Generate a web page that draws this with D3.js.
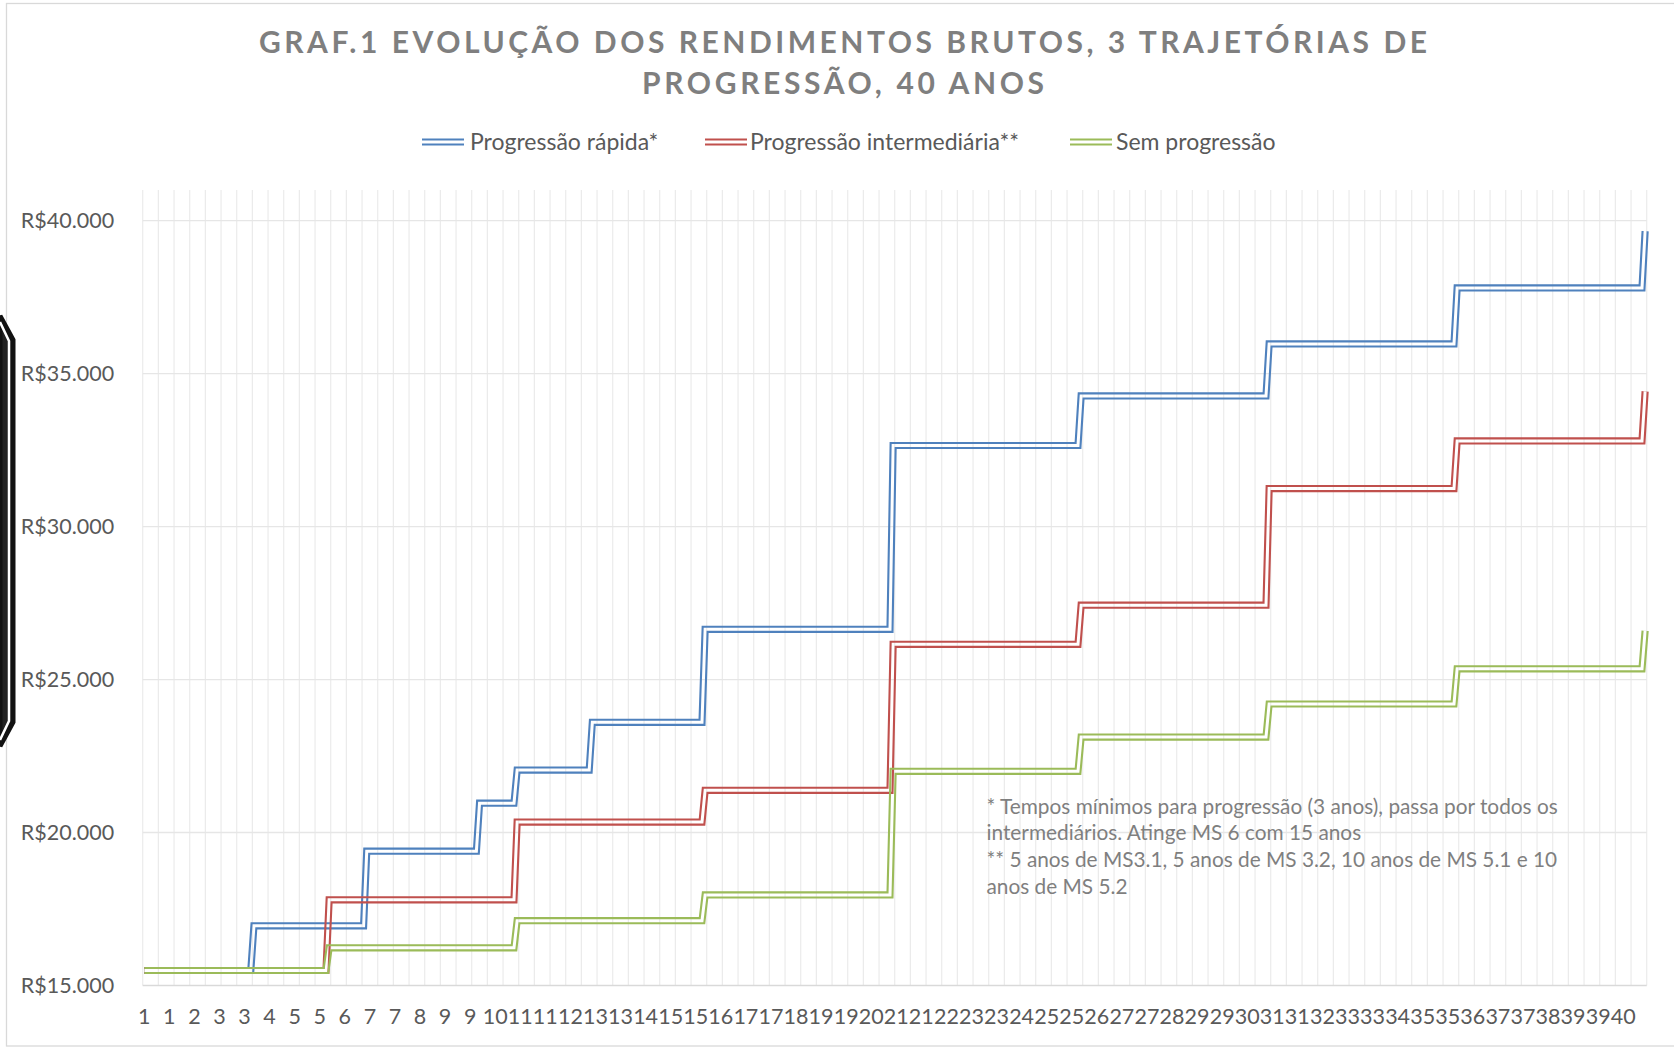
<!DOCTYPE html>
<html>
<head>
<meta charset="utf-8">
<script src="https://cdn.jsdelivr.net/npm/d3@7/dist/d3.min.js"></script>
<style>
  html, body { margin: 0; padding: 0; background: #ffffff; }
  svg { display: block; }
  text { font-family: Lato, "Open Sans", sans-serif; }
</style>
</head>
<body>
<svg id="chart" width="1674" height="1049"></svg>
<script>
// ---------------- data ----------------
const titleLines = ["GRAF.1 EVOLUÇÃO DOS RENDIMENTOS BRUTOS, 3 TRAJETÓRIAS DE", "PROGRESSÃO, 40 ANOS"];
const seriesNames = ["Progressão rápida*", "Progressão intermediária**", "Sem progressão"];
const seriesColors = ["#4F81BD", "#C0504D", "#9BBB59"];

// categories: 480 months (40 years), each labelled by its year
const months = d3.range(1, 481);
// tick labels shown every 8th month
const tickLabels = [1,1,2,3,3,4,5,5,6,7,7,8,9,9,10,11,11,12,13,13,14,15,15,16,17,17,18,19,19,20,
                    21,21,22,23,23,24,25,25,26,27,27,28,29,29,30,31,31,32,33,33,34,35,35,36,37,37,38,39,39,40];
const yTicks = [15000, 20000, 25000, 30000, 35000, 40000];

// step series: month at which each level starts, and the level (R$)
const rapidaStart  = [1, 36, 72, 108, 120, 144, 180, 240, 300, 360, 420, 480];
const rapidaLevel  = [15490, 16950, 19390, 20960, 22040, 23600, 26640, 32650, 34270, 35970, 37800, 39660];
const interStart   = [1, 60, 120, 180, 240, 300, 360, 420, 480];
const interLevel   = [15490, 17800, 20340, 21380, 26150, 27430, 31240, 32800, 34420];
const semStart     = [1, 60, 120, 180, 240, 300, 360, 420, 480];
const semLevel     = [15490, 16230, 17120, 17960, 22000, 23120, 24200, 25350, 26600];

const notes = [
  "* Tempos mínimos para progressão (3 anos), passa por todos os",
  "intermediários. Atinge MS 6 com 15 anos",
  "** 5 anos de MS3.1, 5 anos de MS 3.2, 10 anos de MS 5.1 e 10",
  "anos de MS 5.2"
];

// ---------------- build ----------------
function expand(starts, levels) {
  return months.map(m => {
    let v = levels[0];
    for (let i = 0; i < starts.length; i++) if (starts[i] <= m) v = levels[i];
    return { m, v };
  });
}
const series = [
  { name: seriesNames[0], color: seriesColors[0], values: expand(rapidaStart, rapidaLevel) },
  { name: seriesNames[1], color: seriesColors[1], values: expand(interStart, interLevel) },
  { name: seriesNames[2], color: seriesColors[2], values: expand(semStart, semLevel) }
];

const svg = d3.select("#chart");
const W = 1674, H = 1049;
const plot = { left: 142.7, right: 1646.7, top: 190, bottom: 985.5 };

// chart area border
svg.append("rect").attr("x", 6.5).attr("y", 3.5).attr("width", 1690).attr("height", 1042.5)
  .attr("fill", "#fff").attr("stroke", "#d9d9d9").attr("stroke-width", 1.3);

const x = d3.scaleBand().domain(months).range([plot.left, plot.right]).padding(0);
const bw = x.bandwidth();
const cx = m => x(m) + bw / 2;
const y = d3.scaleLinear().domain([15000, 41000]).range([plot.bottom, plot.top]);

// vertical gridlines every 5 categories
const gv = svg.append("g");
d3.range(0, 481, 5).forEach(i => {
  const xx = plot.left + i * bw;
  gv.append("line").attr("x1", xx).attr("x2", xx).attr("y1", plot.top).attr("y2", plot.bottom)
    .attr("stroke", "#ebebeb").attr("stroke-width", 1.2);
});
// horizontal gridlines
yTicks.forEach(t => {
  svg.append("line").attr("x1", plot.left).attr("x2", plot.right).attr("y1", y(t)).attr("y2", y(t))
    .attr("stroke", t === 15000 ? "#d9d9d9" : "#e6e6e6").attr("stroke-width", 1.3);
});

// axes
const tickMonths = tickLabels.map((d, i) => 1 + 8 * i);
const xAxis = d3.axisBottom(x).tickValues(tickMonths)
  .tickFormat((d, i) => tickLabels[i]).tickSizeInner(0).tickSizeOuter(0).tickPadding(23);
const gx = svg.append("g").attr("transform", `translate(0,${plot.bottom})`).call(xAxis);
gx.select(".domain").remove();
gx.selectAll("text").attr("fill", "#595959").attr("font-size", 21.5);

const yAxis = d3.axisLeft(y).tickValues(yTicks)
  .tickFormat(d => "R$" + d3.format(",")(d).replace(/,/g, "."))
  .tickSizeInner(0).tickSizeOuter(0).tickPadding(28.5);
const gy = svg.append("g").attr("transform", `translate(${plot.left},0)`).call(yAxis);
gy.select(".domain").remove();
gy.selectAll("text").attr("fill", "#595959").attr("font-size", 21.5);

// double-line helper
const defs = svg.append("defs");
let maskId = 0;
function doubleLine(parent, d, color, outer, gap) {
  const id = "dbl" + (maskId++);
  const mask = defs.append("mask").attr("id", id).attr("maskUnits", "userSpaceOnUse")
    .attr("x", 0).attr("y", 0).attr("width", W).attr("height", H);
  mask.append("path").attr("d", d).attr("fill", "none").attr("stroke", "white")
    .attr("stroke-width", outer + 2).attr("stroke-linejoin", "miter");
  mask.append("path").attr("d", d).attr("fill", "none").attr("stroke", "black")
    .attr("stroke-width", gap).attr("stroke-linejoin", "miter");
  parent.append("path").attr("d", d).attr("fill", "none").attr("stroke", color)
    .attr("stroke-width", outer).attr("stroke-linejoin", "miter").attr("stroke-miterlimit", 10)
    .attr("mask", `url(#${id})`);
}

const line = d3.line().x(p => cx(p.m)).y(p => y(p.v));
const gl = svg.append("g");
series.forEach(s => doubleLine(gl, line(s.values), s.color, 7.2, 3.0));

// title
const titleX = 843;
[[titleLines[0], 52.5, 1168], [titleLines[1], 94, 402]].forEach(([t, yy, len]) => {
  svg.append("text").attr("x", titleX).attr("y", yy).attr("text-anchor", "middle")
    .attr("font-size", 30).attr("font-weight", "bold").attr("fill", "#7f7f7f")
    .attr("textLength", len).attr("lengthAdjust", "spacing").text(t);
});

// legend
const legendItems = [
  { lx: 422, tx: 470 },
  { lx: 705, tx: 750 },
  { lx: 1070, tx: 1116 }
];
const legY = 142;
series.forEach((s, i) => {
  const L = legendItems[i];
  const d = `M${L.lx},${legY}L${L.lx + 42},${legY}`;
  doubleLine(svg, d, s.color, 7.2, 3.0);
  svg.append("text").attr("x", L.tx).attr("y", legY + 8).attr("font-size", 23)
    .attr("fill", "#595959").text(s.name);
});

// notes
notes.forEach((t, i) => {
  svg.append("text").attr("x", 986.5).attr("y", 813.5 + i * 26.7).attr("font-size", 20.8)
    .attr("fill", "#7f7f7f").text(t);
});

// left-edge dark artifact
svg.append("path").attr("d", "M0,316 L13,340 L13,722 L0,746 Z")
  .attr("fill", "#222").attr("stroke", "#111").attr("stroke-width", 5);
svg.append("path").attr("d", "M0,322 L9,341 L9,721 L0,740")
  .attr("fill", "none").attr("stroke", "#fff").attr("stroke-width", 2.5);
</script>
</body>
</html>
